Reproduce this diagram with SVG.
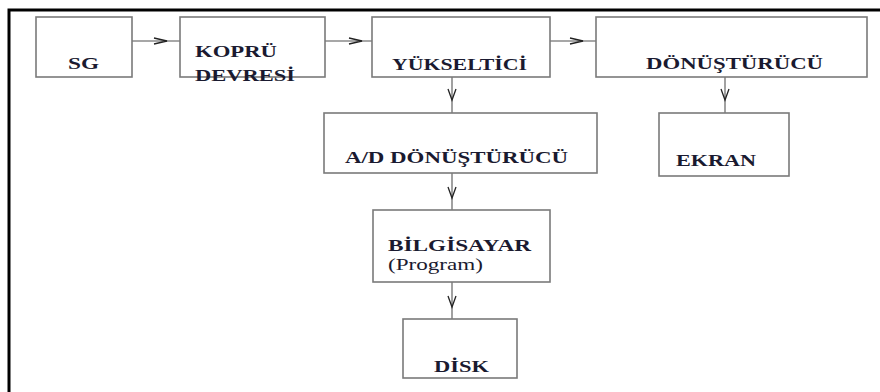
<svg xmlns="http://www.w3.org/2000/svg" width="880" height="392" viewBox="0 0 880 392">
<style>
.box{fill:#fff;stroke:#7a7a7a;stroke-width:1.6}
.ln{fill:none;stroke:#8a8a8a;stroke-width:1.6}
.hd{fill:none;stroke:#222;stroke-width:1.3;stroke-linejoin:miter}
text{font-family:"Liberation Serif","DejaVu Serif",serif;font-size:16px;fill:#1a1a30}
.b{font-weight:bold}
.frame{fill:none;stroke:#000;stroke-width:3}
</style>
<rect width="880" height="392" fill="#fff"/>
<path class="frame" d="M9,392 V10 H880"/>
<g id="connectors">
<path class="ln" d="M132,41 H180"/><path class="hd" d="M154,38 L167,41 L154,44"/>
<path class="ln" d="M325,41 H372"/><path class="hd" d="M349,38 L362,41 L349,44"/>
<path class="ln" d="M550,41 H596"/><path class="hd" d="M570,38 L583,41 L570,44"/>
<path class="ln" d="M452,77 V113"/><path class="hd" d="M448,89 L452,100 L456,89"/>
<path class="ln" d="M725,77 V113"/><path class="hd" d="M721,89 L725,100 L729,89"/>
<path class="ln" d="M452,173 V210"/><path class="hd" d="M448,187 L452,198 L456,187"/>
<path class="ln" d="M452,282 V319"/><path class="hd" d="M448,296 L452,307 L456,296"/>
</g>
<g id="sg"><rect class="box" x="36" y="17" width="96" height="60"/><text class="b" x="68" y="69" textLength="31" lengthAdjust="spacingAndGlyphs">SG</text></g>
<g id="kopru"><rect class="box" x="180" y="17" width="145" height="60"/><text class="b" x="195" y="57" textLength="82" lengthAdjust="spacingAndGlyphs">KOPRÜ</text><text class="b" x="195" y="81" textLength="100" lengthAdjust="spacingAndGlyphs">DEVRESİ</text></g>
<g id="yukseltici"><rect class="box" x="372" y="17" width="178" height="60"/><text class="b" x="392" y="70" textLength="135" lengthAdjust="spacingAndGlyphs">YÜKSELTİCİ</text></g>
<g id="donusturucu"><rect class="box" x="596" y="17" width="271" height="60"/><text class="b" x="646" y="69" textLength="177" lengthAdjust="spacingAndGlyphs">DÖNÜŞTÜRÜCÜ</text></g>
<g id="ekran"><rect class="box" x="659" y="113" width="130" height="63"/><text class="b" x="676" y="166" textLength="80" lengthAdjust="spacingAndGlyphs">EKRAN</text></g>
<g id="ad"><rect class="box" x="324" y="113" width="273" height="60"/><text class="b" x="345" y="163" textLength="223" lengthAdjust="spacingAndGlyphs">A/D DÖNÜŞTÜRÜCÜ</text></g>
<g id="bilgisayar"><rect class="box" x="373" y="210" width="177" height="72"/><text class="b" x="388" y="251" textLength="143" lengthAdjust="spacingAndGlyphs">BİLGİSAYAR</text><text x="388" y="270" textLength="95" lengthAdjust="spacingAndGlyphs">(Program)</text></g>
<g id="disk"><rect class="box" x="403" y="319" width="114" height="59"/><text class="b" x="434" y="372" textLength="55" lengthAdjust="spacingAndGlyphs">DİSK</text></g>
</svg>
